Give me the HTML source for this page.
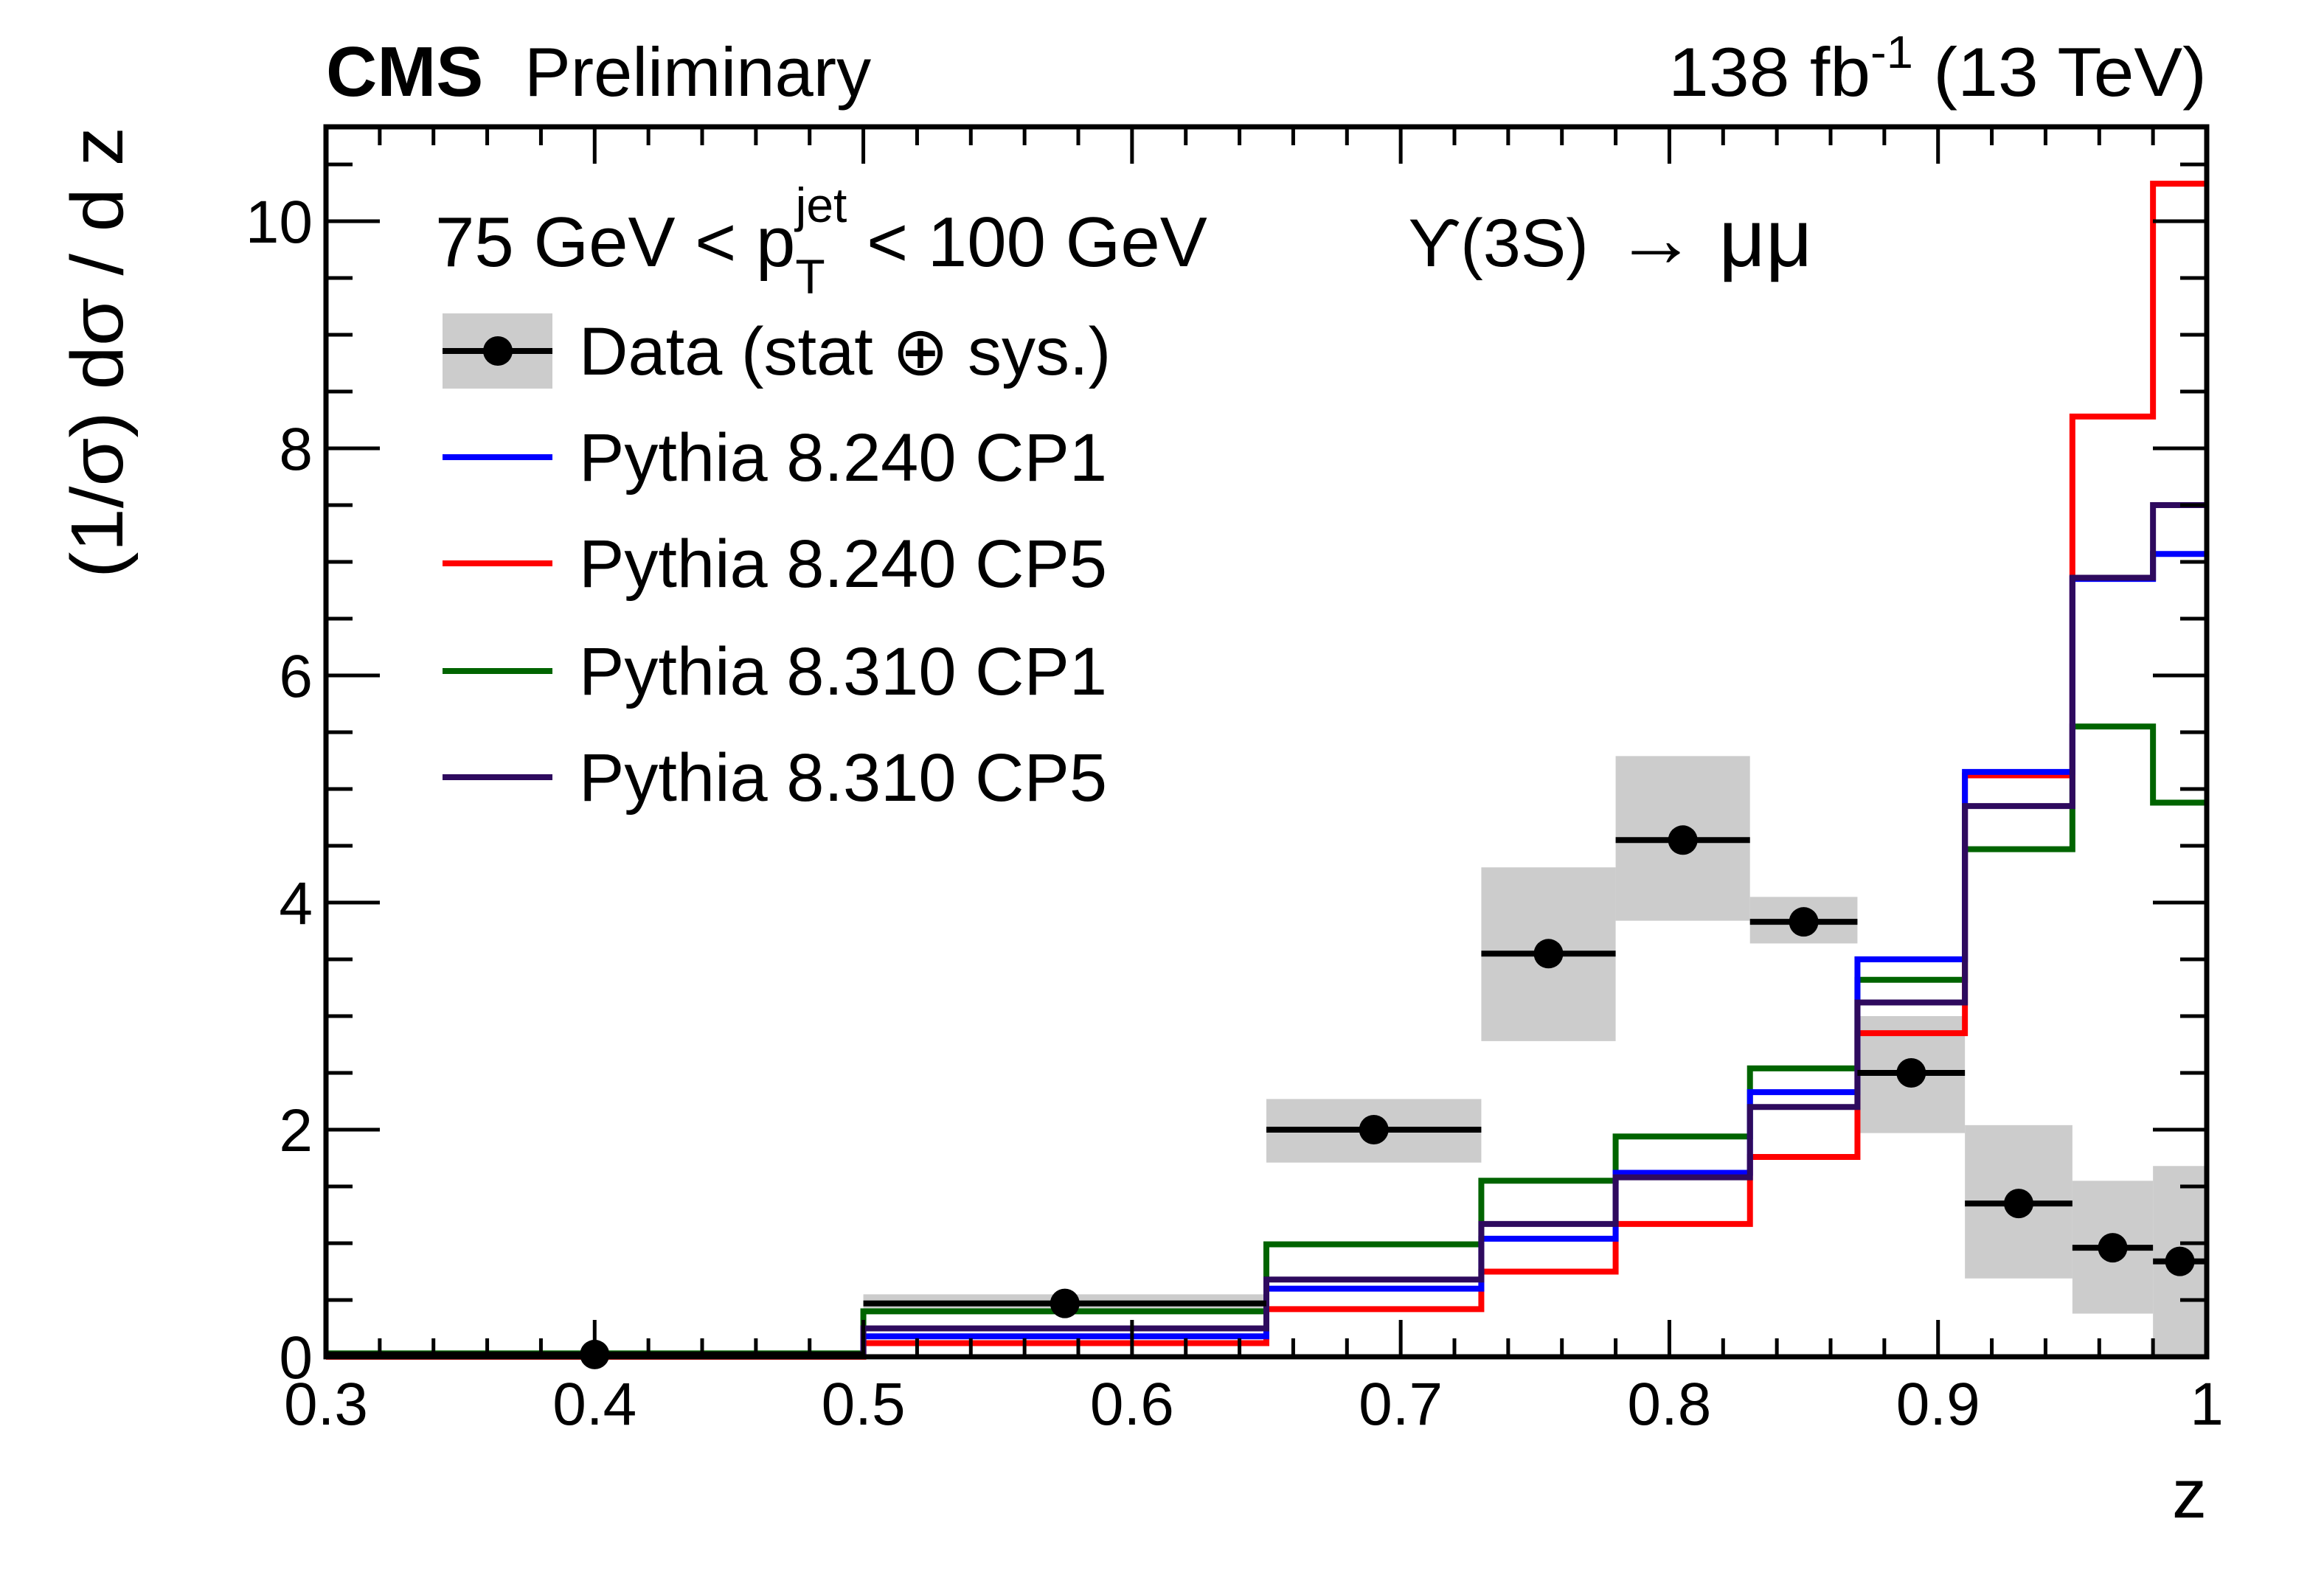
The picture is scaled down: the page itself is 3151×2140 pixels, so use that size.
<!DOCTYPE html>
<html><head><meta charset="utf-8">
<style>
html,body{margin:0;padding:0;background:#fff;}
svg{display:block;font-family:"Liberation Sans",Arial,sans-serif;}
</style></head>
<body>
<svg id="chart" width="3151" height="2140" viewBox="0 0 3151 2140" xmlns="http://www.w3.org/2000/svg">
<g id="bands"></g>
<g id="hists"></g>
<g id="datapts"></g>
<g id="axes"></g>
<text x="442" y="130" font-size="96" font-weight="bold">CMS</text>
<text x="711" y="130" font-size="94">Preliminary</text>
<text x="2992" y="130" font-size="94" text-anchor="end" textLength="730" lengthAdjust="spacingAndGlyphs">138 fb<tspan dy="-38" font-size="62">-1</tspan><tspan dy="38"> (13 TeV)</tspan></text>
<text transform="translate(166,172) rotate(-90)" font-size="100" text-anchor="end" textLength="612" lengthAdjust="spacingAndGlyphs">(1/σ) dσ / d z</text>
<text x="2992" y="2058" font-size="94" text-anchor="end">z</text>
<text x="590" y="361" font-size="96">75 GeV &lt; p<tspan font-size="66" dx="0" dy="37">T</tspan><tspan font-size="66" dx="-40" dy="-97">jet</tspan><tspan dy="60"> &lt; 100 GeV</tspan></text>
<text x="1909" y="361" font-size="92">ϒ(3S)</text>
<text x="2190" y="361" font-size="110">→ μμ</text>
<g id="legend"></g>
</svg>
<script>
const edges=[0.3,0.5,0.65,0.73,0.78,0.83,0.87,0.91,0.95,0.98,1.0];
const dataVals=[0.02,0.47,2.0,3.55,4.55,3.83,2.5,1.35,0.96,0.84];
const bandLo=[0.0,0.40,1.71,2.78,3.84,3.64,1.97,0.69,0.38,0.0];
const bandHi=[0.05,0.55,2.27,4.31,5.29,4.05,3.0,2.04,1.55,1.68];
const cp1_240=[0.01,0.18,0.6,1.04,1.62,2.33,3.5,5.15,6.85,7.07];
const cp5_240=[0.0,0.12,0.42,0.75,1.17,1.76,2.85,5.12,8.28,10.33];
const cp1_310=[0.03,0.4,0.99,1.55,1.94,2.54,3.32,4.47,5.55,4.88];
const cp5_310=[0.02,0.25,0.68,1.17,1.58,2.2,3.12,4.85,6.86,7.5];
const yTicks=[0,2,4,6,8,10];
const xTicks=[0.3,0.4,0.5,0.6,0.7,0.8,0.9,1];
const xTickLabels=["0.3","0.4","0.5","0.6","0.7","0.8","0.9","1"];

const L=442,R=2992,T=172,B=1840;
const X=v=>L+(v-0.3)/(0.7)*(R-L);
const Y=v=>B-v*154;
const NS="http://www.w3.org/2000/svg";
function mk(tag,attrs,parent){const e=document.createElementNS(NS,tag);for(const k in attrs)e.setAttribute(k,attrs[k]);parent.appendChild(e);return e;}

const bands=document.getElementById('bands');
for(let i=0;i<dataVals.length;i++){
  const r=mk('rect',{x:X(edges[i]),y:Y(bandHi[i]),width:X(edges[i+1])-X(edges[i]),height:Y(bandLo[i])-Y(bandHi[i]),fill:'#cccccc'},bands);
  
  
}
const hists=document.getElementById('hists');
function hist(vals,color,name){
  let d='M'+X(edges[0])+','+Y(vals[0]);
  for(let i=0;i<vals.length;i++){d+=' L'+X(edges[i])+','+Y(vals[i])+' L'+X(edges[i+1])+','+Y(vals[i]);}
  const p=mk('path',{d:d,fill:'none',stroke:color,'stroke-width':8},hists);
  
  
}
hist(cp1_310,'#006400','pythia-8310-cp1');
hist(cp5_240,'#ff0000','pythia-8240-cp5');
hist(cp1_240,'#0000ff','pythia-8240-cp1');
hist(cp5_310,'#2e0a5e','pythia-8310-cp5');

const dp=document.getElementById('datapts');
for(let i=0;i<dataVals.length;i++){
  const l=mk('line',{x1:X(edges[i]),x2:X(edges[i+1]),y1:Y(dataVals[i]),y2:Y(dataVals[i]),stroke:'#000','stroke-width':8},dp);
  
  
  const c=mk('circle',{cx:X((edges[i]+edges[i+1])/2),cy:Y(dataVals[i]),r:20,fill:'#000'},dp);
  
  
}

const ax=document.getElementById('axes');
mk('rect',{x:L,y:T,width:R-L,height:B-T,fill:'none',stroke:'#000','stroke-width':7},ax);
for(let k=0;k<=35;k++){
  const v=0.3+k*0.02;const x=X(v);const major=(k%5===0);const len=major?50:25;
  mk('line',{x1:x,x2:x,y1:B,y2:B-len,stroke:'#000','stroke-width':5},ax);
  mk('line',{x1:x,x2:x,y1:T,y2:T+len,stroke:'#000','stroke-width':5},ax);
}
for(let k=0;k<=21;k++){
  const v=k*0.5;const y=Y(v);if(y<T)continue;const major=(k%4===0);const len=major?73:36;
  mk('line',{x1:L,x2:L+len,y1:y,y2:y,stroke:'#000','stroke-width':5},ax);
  mk('line',{x1:R,x2:R-len,y1:y,y2:y,stroke:'#000','stroke-width':5},ax);
}
xTicks.forEach((v,i)=>{
  const t=mk('text',{x:X(v),y:1932,'font-size':82,'text-anchor':'middle'},ax);
  t.textContent=xTickLabels[i];
  
  
});
yTicks.forEach(v=>{
  const t=mk('text',{x:424,y:Y(v)+29,'font-size':82,'text-anchor':'end'},ax);
  t.textContent=String(v);
  
  
});

const lg=document.getElementById('legend');
mk('rect',{x:600,y:425,width:149,height:102,fill:'#cccccc'},lg);
mk('line',{x1:600,x2:749,y1:476,y2:476,stroke:'#000','stroke-width':8},lg);
mk('circle',{cx:675,cy:476,r:20,fill:'#000'},lg);
const entries=[["Data (stat ⊕ sys.)",null,476],["Pythia 8.240 CP1","#0000ff",620],["Pythia 8.240 CP5","#ff0000",764],["Pythia 8.310 CP1","#006400",910],["Pythia 8.310 CP5","#2e0a5e",1054]];
entries.forEach(e=>{
  if(e[1]){mk('line',{x1:600,x2:749,y1:e[2],y2:e[2],stroke:e[1],'stroke-width':8},lg);}
  const t=mk('text',{x:785,y:e[2]+32,'font-size':92},lg);
  t.textContent=e[0];
  
  
});
</script>
</body></html>
